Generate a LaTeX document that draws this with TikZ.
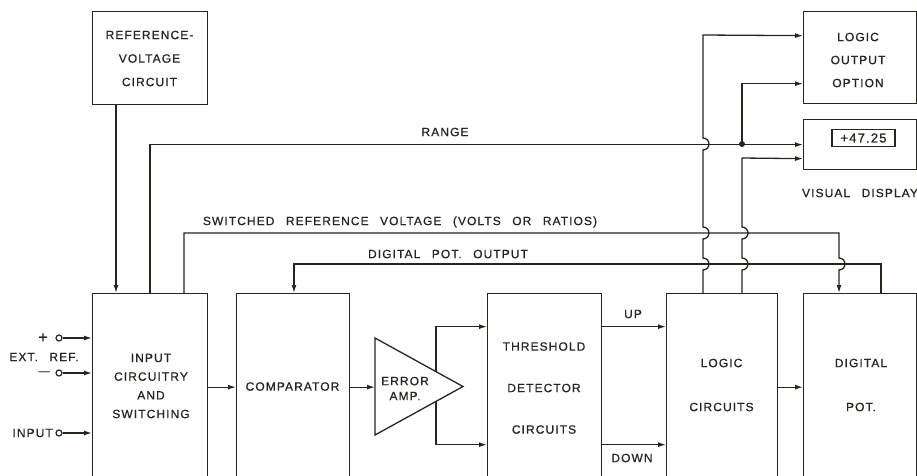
\documentclass[tikz,border=0pt]{standalone}
\usepackage{fontspec}
\setmainfont{Liberation Sans}[LetterSpace=9,WordSpace=2.6,FakeBold=0.7]
\usetikzlibrary{arrows.meta,calc}
\definecolor{ink}{RGB}{40,36,30}
\begin{document}
\begin{tikzpicture}[x=1pt,y=-1pt,
  box/.style={draw=ink,line width=1.3pt,rectangle,inner sep=0pt,anchor=north west},
  lbl/.style={text=ink,font=\fontsize{12}{14}\selectfont,inner sep=0pt},
  conn/.style={draw=ink,line width=1.3pt},
  arr/.style={conn,-{Latex[length=8pt,width=5pt]}},
  term/.style={circle,draw=ink,line width=1.2pt,minimum size=6pt,inner sep=0pt}]
\useasboundingbox (0,0) rectangle (917,475);
\clip (0,0) rectangle (917,475);
% boxes
\node[box,minimum width=115,minimum height=93] (ref) at (92,11) {};
\node[box,minimum width=115,minimum height=187] (inp) at (92,293) {};
\node[box,minimum width=113,minimum height=187] (cmp) at (236,293) {};
\node[box,minimum width=114,minimum height=187] (thr) at (487,293) {};
\node[box,minimum width=111,minimum height=187] (lgc) at (666,293) {};
\node[box,minimum width=113,minimum height=187] (dpot) at (803,293) {};
\node[box,minimum width=113,minimum height=92] (lout) at (803,11) {};
\node[box,minimum width=113,minimum height=50] (vis) at (803,119) {};
\node[draw=ink,line width=1.3pt,minimum width=63,minimum height=17,inner sep=0pt,text=ink,
      font=\fontsize{13}{14}\selectfont] (disp) at (863.5,138) {+47.25};
% error amplifier
\draw[conn] (375,338) coordinate (ea1) -- (463,386.5) coordinate (eatip) -- (375,435) coordinate (ea2) -- cycle;
% box texts
\node[lbl,align=center,font=\fontsize{12}{23.5}\selectfont] (treF) at (149.5,58.5) {REFERENCE-\\VOLTAGE\\CIRCUIT};
\node[lbl,align=center,font=\fontsize{12}{18.7}\selectfont] (tinp) at (151,386) {INPUT\\CIRCUITRY\\AND\\SWITCHING};
\node[lbl] (tcmp) at (292.5,386.5) {COMPARATOR};
\node[lbl,align=center,font=\fontsize{12}{15}\selectfont] (tea) at (405,388.5) {ERROR\\AMP.};
\node[lbl,align=center,font=\fontsize{12}{41.5}\selectfont] (tthr) at (544,388) {THRESHOLD\\DETECTOR\\CIRCUITS};
\node[lbl,align=center,font=\fontsize{12}{44}\selectfont] (tlgc) at (721.5,385) {LOGIC\\CIRCUITS};
\node[lbl,align=center,font=\fontsize{12}{44}\selectfont] (tdpot) at (861,385) {DIGITAL\\POT.};
\node[lbl,align=center,font=\fontsize{12}{23}\selectfont] (tlout) at (858,60) {LOGIC\\OUTPUT\\OPTION};
\node[lbl] (tvis) at (860,193) {VISUAL DISPLAY};
% line labels
\node[lbl] (trange) at (445,132) {RANGE};
\node[lbl] (tsw) at (400,222) {SWITCHED REFERENCE VOLTAGE (VOLTS OR RATIOS)};
\node[lbl] (tdpo) at (448,254) {DIGITAL POT. OUTPUT};
\node[lbl] (tup) at (633,314) {UP};
\node[lbl] (tdown) at (632,458) {DOWN};
% input terminals
\node[term] (tp) at (59,338) {};
\node[term] (tm) at (59,373) {};
\node[term] (ti) at (59,433) {};
\node[lbl,font=\fontsize{16}{16}\selectfont] (plus) at (43,338) {+};
\node[lbl,font=\fontsize{11}{11}\selectfont] (minus) at (44,373) {—};
\node[lbl] (text) at (44,357) {EXT. REF.};
\node[lbl,anchor=east] (tinput) at (53,433) {INPUT};
\draw[arr] (tp.east) -- (tp.east -| inp.west);
\draw[arr] (tm.east) -- (tm.east -| inp.west);
\draw[arr] (ti.east) -- (ti.east -| inp.west);
% reference voltage to input
\draw[arr] ($(ref.south west)+(24,0)$) -- ($(inp.north west)+(24,0)$);
% main chain
\draw[arr] (inp.east) -- (cmp.west);
\draw[arr] (cmp.east) -- (cmp.east -| ea1);
\draw[arr] ($(ea1)!0.6932!(eatip)$) |- ($(thr.west)+(0,-60.5)$);
\draw[arr] ($(ea2)!0.6932!(eatip)$) |- ($(thr.west)+(0,57.5)$);
\draw[arr] ($(thr.east)+(0,-60.5)$) -- ($(lgc.west)+(0,-60.5)$);
\draw[arr] ($(thr.east)+(0,57.5)$) -- ($(lgc.west)+(0,57.5)$);
\draw[arr] (lgc.east) -- (dpot.west);
% range
\draw[arr] ($(inp.north west)+(58,0)$) |- (vis.west);
\fill[ink] (742,144) circle (3pt);
\coordinate (rj) at (742,144);
\draw[arr] (rj) |- ($(lout.west)+(0,26)$);
% switched reference voltage
\draw[arr] ($(inp.north west)+(92,0)$) -- (184,233) -- (839,233) -- (839,258)
  arc[start angle=-90,end angle=90,radius=6] -- ($(dpot.north west)+(36,0)$);
% digital pot output
\draw[arr] ($(dpot.north west)+(78,0)$) -- (881,264) -- (294,264) -- ($(cmp.north west)+(58,0)$);
% logic circuit outputs
\draw[arr] ($(lgc.north west)+(37,0)$) -- (703,270)
  arc[start angle=90,end angle=-90,radius=6] -- (703,239)
  arc[start angle=90,end angle=-90,radius=6] -- (703,150)
  arc[start angle=90,end angle=-90,radius=6] -- (703,35) -- ($(lout.west)+(0,-22)$);
\draw[arr] ($(lgc.north west)+(76,0)$) -- (742,270)
  arc[start angle=90,end angle=-90,radius=6] -- (742,239)
  arc[start angle=90,end angle=-90,radius=6] -- (742,158) -- ($(vis.west)+(0,14)$);
\end{tikzpicture}
\end{document}
